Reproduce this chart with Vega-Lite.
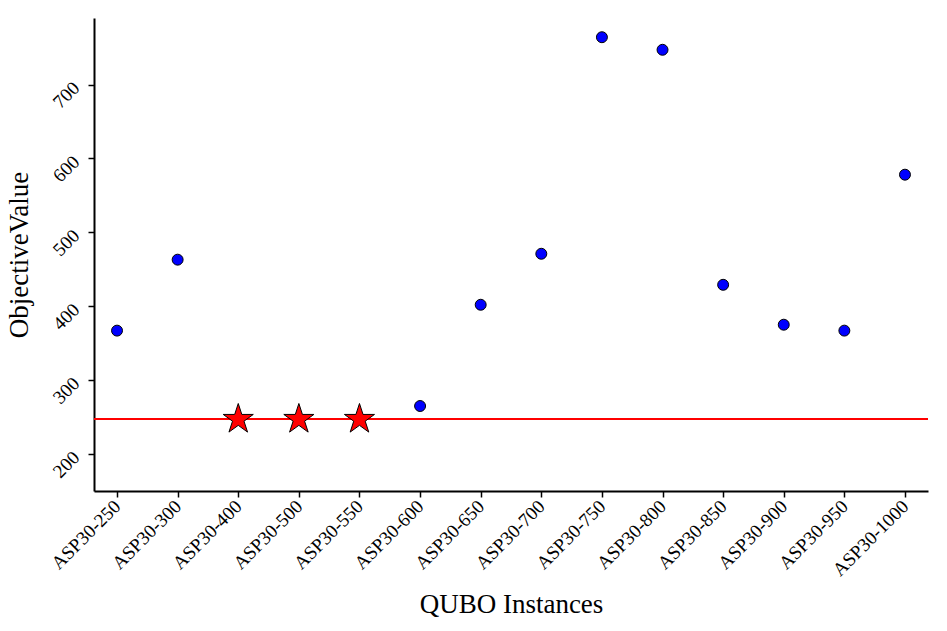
{
  "$schema": "https://vega.github.io/schema/vega-lite/v6.json",
  "width": 834,
  "height": 473,
  "autosize": "none",
  "padding": {"left": 94, "top": 18, "right": 19, "bottom": 140},
  "background": "white",
  "config": {
    "view": {"stroke": null},
    "font": "Liberation Serif",
    "axis": {
      "grid": false,
      "domainColor": "black",
      "domainWidth": 2,
      "tickColor": "black",
      "tickWidth": 1.5,
      "tickSize": 6,
      "labelFont": "Liberation Serif",
      "titleFont": "Liberation Serif",
      "labelColor": "black",
      "titleColor": "black",
      "labelFontSize": 19,
      "titleFontSize": 27,
      "titleFontWeight": "normal"
    }
  },
  "data": {
    "values": [
      {"instance": "ASP30-250", "value": 367, "kind": "other"},
      {"instance": "ASP30-300", "value": 463, "kind": "other"},
      {"instance": "ASP30-400", "value": 247, "kind": "best"},
      {"instance": "ASP30-500", "value": 247, "kind": "best"},
      {"instance": "ASP30-550", "value": 247, "kind": "best"},
      {"instance": "ASP30-600", "value": 265, "kind": "other"},
      {"instance": "ASP30-650", "value": 402, "kind": "other"},
      {"instance": "ASP30-700", "value": 471, "kind": "other"},
      {"instance": "ASP30-750", "value": 764, "kind": "other"},
      {"instance": "ASP30-800", "value": 747, "kind": "other"},
      {"instance": "ASP30-850", "value": 429, "kind": "other"},
      {"instance": "ASP30-900", "value": 375, "kind": "other"},
      {"instance": "ASP30-950", "value": 367, "kind": "other"},
      {"instance": "ASP30-1000", "value": 578, "kind": "other"}
    ]
  },
  "encoding": {
    "x": {
      "field": "instance",
      "type": "nominal",
      "sort": null,
      "scale": {"type": "point", "padding": 0.38},
      "axis": {
        "title": "QUBO Instances",
        "labelAngle": -45,
        "labelAlign": "right",
        "labelBaseline": "middle",
        "labelPadding": 6,
        "titlePadding": 12
      }
    },
    "y": {
      "field": "value",
      "type": "quantitative",
      "scale": {"domain": [150, 790], "nice": false, "zero": false},
      "axis": {
        "title": "ObjectiveValue",
        "values": [200, 300, 400, 500, 600, 700],
        "labelAngle": -45,
        "labelAlign": "right",
        "labelBaseline": "middle",
        "labelPadding": 12,
        "titlePadding": 16
      }
    }
  },
  "layer": [
    {
      "mark": {"type": "rule", "color": "red", "strokeWidth": 1.5},
      "encoding": {
        "x": {"value": 0},
        "x2": {"value": 834},
        "y": {"datum": 247}
      }
    },
    {
      "mark": {"type": "point", "filled": true, "stroke": "black", "strokeWidth": 1, "opacity": 1},
      "encoding": {
        "shape": {
          "field": "kind",
          "type": "nominal",
          "scale": {"domain": ["other", "best"], "range": ["circle", "M0,-1L0.2245,-0.309L0.951,-0.309L0.363,0.118L0.588,0.809L0,0.382L-0.588,0.809L-0.363,0.118L-0.951,-0.309L-0.2245,-0.309Z"]},
          "legend": null
        },
        "fill": {
          "field": "kind",
          "type": "nominal",
          "scale": {"domain": ["other", "best"], "range": ["blue", "red"]},
          "legend": null
        },
        "size": {
          "field": "kind",
          "type": "nominal",
          "scale": {"domain": ["other", "best"], "range": [120, 1000]},
          "legend": null
        }
      }
    }
  ]
}
